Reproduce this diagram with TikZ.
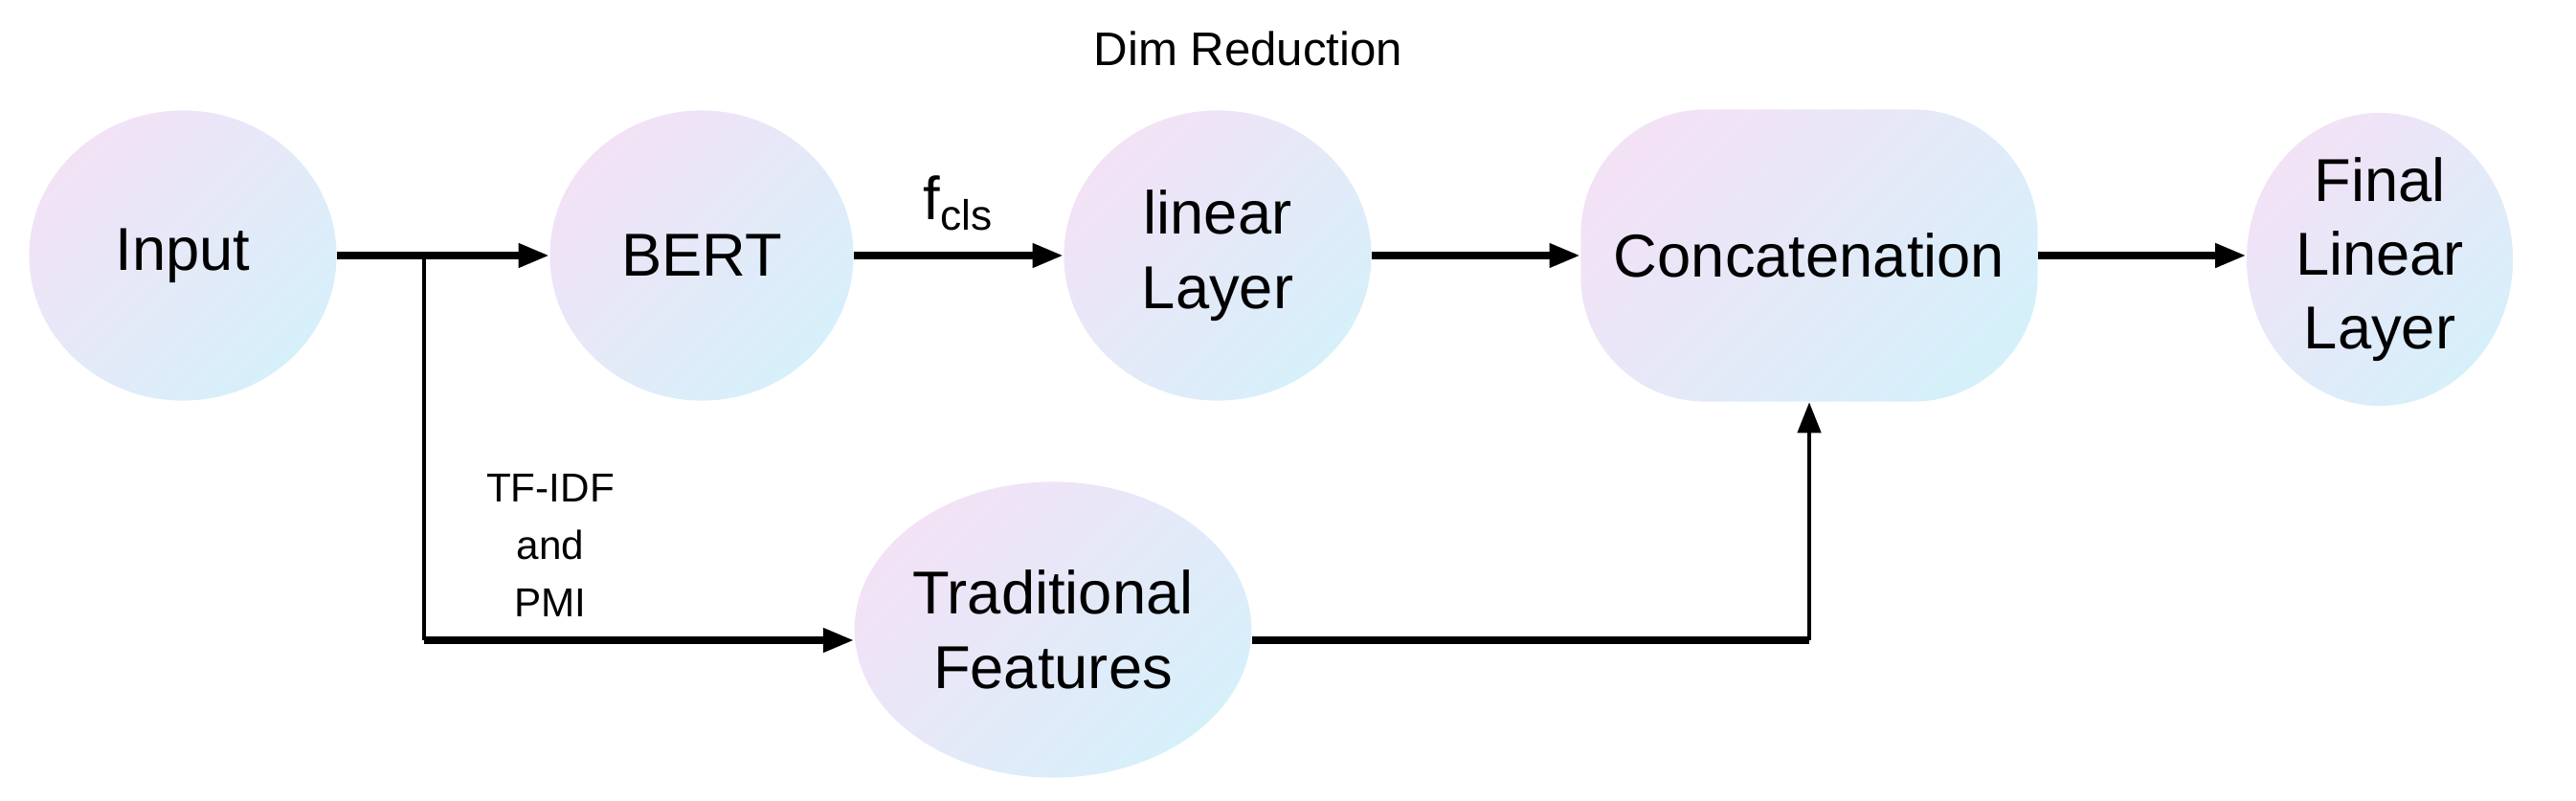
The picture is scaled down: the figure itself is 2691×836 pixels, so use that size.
\documentclass[tikz,border=0pt]{standalone}
\usepackage{fontspec}
\setmainfont{Liberation Sans}
\usetikzlibrary{shapes.geometric,arrows.meta}
\definecolor{pk}{RGB}{243,226,246}
\definecolor{cy}{RGB}{214,240,250}
\tikzset{
  blob/.style={ellipse, inner sep=0pt, left color=pk, right color=cy, shading angle=45, align=center, font=\fontsize{18}{22}\selectfont},
  arr/.style={line width=2pt, -{Triangle[length=0.32cm,width=0.24cm]}},
  thin/.style={line width=1.3pt},
  lbl/.style={font=\fontsize{12}{17}\selectfont, align=center}
}
\begin{document}
\begin{tikzpicture}[x=0.01cm,y=-0.01cm]
\useasboundingbox (0,0) rectangle (2691,836);
\node[blob, minimum width=3.21cm, minimum height=3.03cm] (in) at (191,267) {Input};
\node[blob, minimum width=3.17cm, minimum height=3.03cm] (bert) at (733,267) {BERT};
\node[blob, minimum width=3.21cm, minimum height=3.03cm] (lin) at (1272,267) {linear\\Layer};
\node[rectangle, rounded corners=1.3cm, inner sep=0pt, left color=pk, right color=cy, shading angle=45, minimum width=4.77cm, minimum height=3.05cm, font=\fontsize{18}{22}\selectfont] (cat) at (1890,267) {Concatenation};
\node[blob, minimum width=2.78cm, minimum height=3.06cm] (fin) at (2486,271) {Final\\Linear\\Layer};
\node[blob, minimum width=4.08cm, minimum height=3.09cm] (tf) at (1100,658) {Traditional\\Features};
\node[font=\fontsize{14}{17}\selectfont] (dim) at (1304,51) {Dim Reduction};
\node[lbl] (tfl) at (575,570) {TF-IDF\\and\\PMI};
\coordinate (br) at (443,267);
\coordinate (bd) at (443,669);
\coordinate (up) at (1890,669);
\draw[arr] (in.east) -- (bert.west);
\draw[arr] (bert.east) -- node[above=3pt, font=\fontsize{18}{22}\selectfont]{f\textsubscript{cls}} (lin.west);
\draw[arr] (lin.east) -- (lin.east -| cat.west);
\draw[arr] (cat.east) -- (cat.east -| fin.west);
\draw[thin] (br) -- (bd);
\draw[arr] (bd) -- (bd -| tf.west);
\draw[line width=2pt] (tf.east |- up) -- (up);
\draw[thin, -{Triangle[length=0.32cm,width=0.24cm]}] (up) -- (cat.south);
\end{tikzpicture}
\end{document}
